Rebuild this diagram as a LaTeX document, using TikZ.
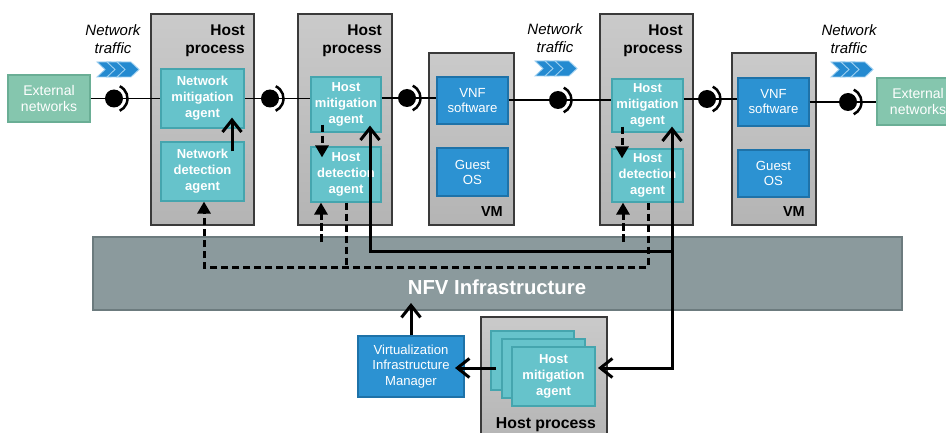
\documentclass[tikz,border=0pt]{standalone}
\usepackage{fontspec}
\setmainfont{Liberation Sans}
\usetikzlibrary{arrows.meta,calc}

\definecolor{hostTop}{HTML}{CACACA}
\definecolor{hostBot}{HTML}{B4B4B4}
\definecolor{hostEdge}{HTML}{3A3A3A}
\definecolor{agentFill}{HTML}{66C3CB}
\definecolor{agentEdge}{HTML}{45A5AE}
\definecolor{vnfFill}{HTML}{2C92D2}
\definecolor{vnfEdge}{HTML}{1E72A8}
\definecolor{extFill}{HTML}{85C6AE}
\definecolor{extEdge}{HTML}{6AAE95}
\definecolor{nfviFill}{HTML}{8B9A9D}
\definecolor{nfviEdge}{HTML}{6C7B7E}
\definecolor{chevFill}{HTML}{248AD0}
\definecolor{chevEdge}{HTML}{9FD0F0}

\tikzset{
  box/.style={rectangle, inner sep=0pt, align=center, line width=1.2pt},
  hostbox/.style={box, draw=hostEdge, top color=hostTop, bottom color=hostBot, line width=1.4pt},
  agentbox/.style={box, draw=agentEdge, fill=agentFill, text=white,
    font=\fontsize{13}{16}\selectfont\bfseries},
  bluebox/.style={box, draw=vnfEdge, fill=vnfFill, text=white,
    font=\fontsize{13.2}{15}\selectfont},
  extbox/.style={box, draw=extEdge, fill=extFill, text=white,
    font=\fontsize{14}{16}\selectfont},
  hosttitle/.style={font=\fontsize{15.5}{18}\selectfont\bfseries, align=right, inner sep=0pt},
  vmlabel/.style={font=\fontsize{14.5}{17}\selectfont\bfseries, inner sep=0pt},
  trafficlabel/.style={font=\fontsize{15}{18}\selectfont\itshape, align=center, inner sep=0pt},
  wire/.style={line width=1.3pt, black},
  barb/.tip={Straight Barb[length=12pt,width=19pt]},
  solidline/.style={line width=3pt, black},
  solidarr/.style={solidline, -barb},
  dashline/.style={line width=3pt, black, dash pattern=on 7.5pt off 3.5pt},
  dasharr/.style={dashline, -{Triangle[length=12pt,width=13pt]}},
  socket/.pic={
    \fill (0,0) circle[radius=9pt];
    \draw[line width=2.5pt] (65:13.5pt) arc[start angle=65, end angle=-65, radius=13.5pt];
  },
  traffic/.pic={
    \foreach \i in {0,10,20}{
      \filldraw[fill=chevFill, draw=chevEdge, line width=0.9pt]
        (\i,0) -- (\i+14,0) -- (\i+22,7.5) -- (\i+14,15) -- (\i,15) -- (\i+8,7.5) -- cycle;
    }
  }
}

\begin{document}
\begin{tikzpicture}[x=1pt,y=-1pt]
\useasboundingbox (0,0) rectangle (946,433);

% NFV infrastructure band
\node[box, draw=nfviEdge, fill=nfviFill, line width=1.5pt,
      minimum width=809pt, minimum height=73pt] (nfvi) at (497.5,273.5) {};
\node[font=\fontsize{20.3}{24}\selectfont\bfseries, text=white, inner sep=0pt]
      (nfvilabel) at (497,287) {NFV Infrastructure};

% host processes and virtual machines
\node[hostbox, minimum width=103pt, minimum height=211pt] (hp1) at (202.5,119.5) {};
\node[hostbox, minimum width=94pt,  minimum height=211pt] (hp2) at (345,119.5) {};
\node[hostbox, minimum width=85pt,  minimum height=172pt] (vm1) at (471.5,139) {};
\node[hostbox, minimum width=93pt,  minimum height=211pt] (hp3) at (646.5,119.5) {};
\node[hostbox, minimum width=84pt,  minimum height=172pt] (vm2) at (774,139) {};
\node[hostbox, minimum width=126pt, minimum height=128pt] (hp4) at (544,381) {};

% agents
\node[agentbox, minimum width=83pt, minimum height=59pt] (nma) at (202.5,98.5) {Network\\mitigation\\agent};
\node[agentbox, minimum width=83pt, minimum height=59pt] (nda) at (202.5,171.5) {Network\\detection\\agent};
\node[agentbox, minimum width=70pt, minimum height=55pt] (hma2) at (346,104.5) {Host\\mitigation\\agent};
\node[agentbox, minimum width=70pt, minimum height=55pt] (hda2) at (346,174.5) {Host\\detection\\agent};
\node[agentbox, minimum width=71pt, minimum height=53pt] (hma3) at (647.5,105.5) {Host\\mitigation\\agent};
\node[agentbox, minimum width=71pt, minimum height=53pt] (hda3) at (647.5,175.5) {Host\\detection\\agent};
\node[agentbox, minimum width=83pt, minimum height=59pt] (hma4a) at (532.5,360.5) {};
\node[agentbox, minimum width=83pt, minimum height=59pt] (hma4b) at (543.5,368.5) {};
\node[agentbox, minimum width=83pt, minimum height=59pt] (hma4c) at (553.5,376.5) {Host\\mitigation\\agent};

% VNF, guest OS, VIM
\node[bluebox, minimum width=71pt, minimum height=47pt] (vnf1) at (472.5,100.5) {VNF\\software};
\node[bluebox, minimum width=71pt, minimum height=48pt] (gos1) at (472.5,172) {Guest\\OS};
\node[bluebox, minimum width=71pt, minimum height=48pt] (vnf2) at (773.5,102) {VNF\\software};
\node[bluebox, minimum width=71pt, minimum height=47pt] (gos2) at (773.5,173.5) {Guest\\OS};
\node[bluebox, font=\fontsize{13.1}{15.5}\selectfont, minimum width=106pt, minimum height=61pt]
      (vim) at (411,366.5) {Virtualization\\Infrastructure\\Manager};

% external networks
\node[extbox, minimum width=82pt, minimum height=47pt] (extL) at (49,98.5) {External\\networks};
\node[extbox, minimum width=82pt, minimum height=47pt] (extR) at (918,101.5) {External\\networks};

% titles
\node[hosttitle, anchor=north east] (hp1title) at (245,25) {Host\\process};
\node[hosttitle, anchor=north east] (hp2title) at (382,25) {Host\\process};
\node[hosttitle, anchor=north east] (hp3title) at (683,25) {Host\\process};
\node[vmlabel, anchor=base east] (vm1label) at (503,217) {VM};
\node[vmlabel, anchor=base east] (vm2label) at (805,217) {VM};
\node[font=\fontsize{15.8}{18}\selectfont\bfseries, inner sep=0pt, anchor=base]
      (hp4title) at (546,428) {Host process};

% network traffic markers
\node[trafficlabel, anchor=north] (tr1) at (113,24) {Network\\traffic};
\node[trafficlabel, anchor=north] (tr2) at (555,23) {Network\\traffic};
\node[trafficlabel, anchor=north] (tr3) at (849,24) {Network\\traffic};
\pic at (97,62) {traffic};
\pic at (535,61) {traffic};
\pic at (831,62) {traffic};

% data path with sockets
\coordinate (s1) at (114,98.5);
\coordinate (s2) at (270,98.5);
\coordinate (s3) at (407,98);
\coordinate (s4) at (558,100);
\coordinate (s5) at (707,99);
\coordinate (s6) at (848,102);
\draw[wire] (extL.east |- s1) -- (nma.west |- s1);
\draw[wire] (nma.east |- s2) -- (hma2.west |- s2);
\draw[wire] (hma2.east |- s3) -- (vnf1.west |- s3);
\draw[wire] (vnf1.east |- s4) -- (hma3.west |- s4);
\draw[wire] (hma3.east |- s5) -- (vnf2.west |- s5);
\draw[wire] (vnf2.east |- s6) -- (extR.west |- s6);
\foreach \s in {s1,s2,s3,s4,s5,s6} { \pic at (\s) {socket}; }

% detection -> mitigation inside the hosts
\draw[solidarr] ($(nda.north)+(29.5,10)$) -- ($(nma.south)+(29.5,-11)$);
\draw[dasharr] ($(hma2.south)+(-24,-8)$) -- ($(hda2.north)+(-24,11)$);
\draw[dasharr] ($(hma3.south)+(-25.5,-6)$) -- ($(hda3.north)+(-25.5,10)$);

% detection reports collected by the network detection agent
\coordinate (dl) at (204,267);
\coordinate (dr) at (648,267);
\draw[dasharr] (hda3.south -| dr) -- (dr) -- (dl) -- (dl |- nda.south);
\draw[dashline] (hda2.south) -- (hda2.south |- dl);
\coordinate (f2) at (321,242);
\coordinate (f3) at (623,242);
\draw[dasharr] (f2) -- (f2 |- hda2.south);
\draw[dasharr] (f3) -- (f3 |- hda3.south);

% mitigation control paths
\coordinate (sj) at (672,251);
\coordinate (sb) at (370,251);
\coordinate (sc) at (672,368);
\coordinate (sd) at (598,368);
\draw[solidarr] (sj) -- (sb) -- ($(hma2.south)+(24,-7)$);
\draw[solidline, barb-barb] ($(hma3.south)+(24.5,-6)$) -- (sc) -- (sd);

% VIM connections
\coordinate (vt) at (411,303);
\draw[solidarr] (vim.north) -- (vt);
\coordinate (st) at (496,368);
\coordinate (vs) at (455,368);
\draw[solidarr] (st) -- (vs);
\end{tikzpicture}
\end{document}
